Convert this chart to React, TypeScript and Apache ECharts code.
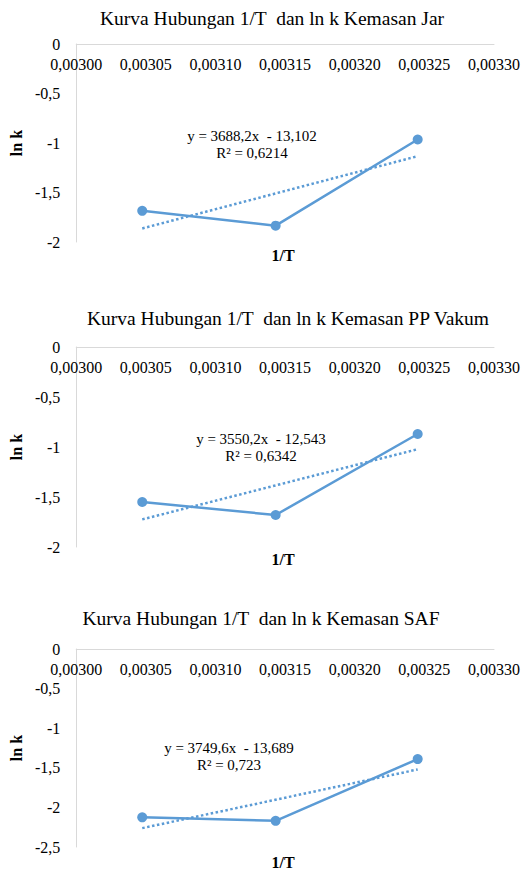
import React, { useEffect, useRef } from "react";
import * as echarts from "echarts";

// 1/T values (K^-1)
const invT = [0.0030474, 0.0031432, 0.0032452];

// ln k values per packaging
const lnkJar = [-1.685, -1.835, -0.965];
const lnkPP = [-1.55, -1.68, -0.87];
const lnkSAF = [-2.125, -2.17, -1.39];

// trendline endpoints (at first and last 1/T)
const trendJar = [-1.863, -1.133];
const trendPP = [-1.724, -1.022];
const trendSAF = [-2.262, -1.521];

const titles = [
  "Kurva Hubungan 1/T  dan ln k Kemasan Jar",
  "Kurva Hubungan 1/T  dan ln k Kemasan PP Vakum",
  "Kurva Hubungan 1/T  dan ln k Kemasan SAF",
];
const equations = ["y = 3688,2x  - 13,102", "y = 3550,2x  - 12,543", "y = 3749,6x  - 13,689"];
const rSquared = ["R² = 0,6214", "R² = 0,6342", "R² = 0,723"];
const yMins = [-2, -2, -2.5];

const FONT = "'Liberation Serif', 'Times New Roman', serif";
const BLUE = "#5B9BD5";
const AXIS = "#D9D9D9";

export default function App() {
  const ref = useRef<HTMLDivElement>(null);
  useEffect(() => {
    document.body.style.margin = "0";
    if (!ref.current) return;
    const chart = echarts.init(ref.current, undefined, { renderer: "svg" });

    const lnks = [lnkJar, lnkPP, lnkSAF];
    const trends = [trendJar, trendPP, trendSAF];
    const gridTops = [44, 347, 649];
    const gridHeights = [198, 200, 198];
    const titleX = [272, 288, 261];
    const titleY = [18, 318, 618];
    const eqX = [252, 261, 229];
    const eqY = [136, 439, 748];
    const xTitleY = [255, 559, 862];

    const grids = gridTops.map((t, i) => ({
      left: 71,
      top: t,
      width: 426,
      height: gridHeights[i],
    }));

    const xAxes = grids.map((_, i) => ({
      type: "value",
      gridIndex: i,
      position: "top",
      min: 300,
      max: 330,
      interval: 5,
      axisLine: { show: true, onZero: false, lineStyle: { color: AXIS, width: 1 } },
      axisTick: { show: false },
      splitLine: { show: false },
      axisLabel: {
        inside: true,
        margin: 12,
        color: "#000",
        fontFamily: FONT,
        fontSize: 16,
        formatter: (v: number) => (v / 100000).toFixed(5).replace(".", ","),
      },
    }));

    const yAxes = grids.map((_, i) => ({
      type: "value",
      gridIndex: i,
      min: yMins[i],
      max: 0,
      interval: 0.5,
      name: "ln k",
      nameLocation: "middle",
      nameRotate: 90,
      nameGap: 46,
      nameTextStyle: { fontFamily: FONT, fontSize: 16, fontWeight: "bold", color: "#000" },
      axisLine: { show: true, lineStyle: { color: AXIS, width: 1 } },
      axisTick: { show: false },
      splitLine: { show: false },
      axisLabel: {
        margin: 16,
        color: "#000",
        fontFamily: FONT,
        fontSize: 16,
        formatter: (v: number) => String(v).replace(".", ","),
      },
    }));

    const series: any[] = [];
    lnks.forEach((vals, i) => {
      series.push({
        type: "line",
        xAxisIndex: i,
        yAxisIndex: i,
        data: invT.map((x, j) => [x * 100000, vals[j]]),
        symbol: "circle",
        symbolSize: 10,
        itemStyle: { color: BLUE },
        lineStyle: { color: BLUE, width: 2.5 },
        z: 3,
      });
      series.push({
        type: "line",
        xAxisIndex: i,
        yAxisIndex: i,
        data: [
          [invT[0] * 100000, trends[i][0]],
          [invT[invT.length - 1] * 100000, trends[i][1]],
        ],
        symbol: "none",
        lineStyle: { color: BLUE, width: 2.5, type: [2.5, 2.5] },
        z: 2,
      });
    });

    const graphics: any[] = [];
    titles.forEach((t, i) => {
      graphics.push({
        type: "text",
        x: titleX[i],
        y: titleY[i],
        style: {
          text: t,
          fontFamily: FONT,
          fontSize: 19.5,
          fill: "#000",
          textAlign: "center",
          textVerticalAlign: "middle",
        },
      });
      graphics.push({
        type: "text",
        x: eqX[i],
        y: eqY[i],
        style: {
          text: equations[i],
          fontFamily: FONT,
          fontSize: 15,
          fill: "#000",
          textAlign: "center",
          textVerticalAlign: "middle",
        },
      });
      graphics.push({
        type: "text",
        x: eqX[i],
        y: eqY[i] + 17,
        style: {
          text: rSquared[i],
          fontFamily: FONT,
          fontSize: 15,
          fill: "#000",
          textAlign: "center",
          textVerticalAlign: "middle",
        },
      });
      graphics.push({
        type: "text",
        x: 283,
        y: xTitleY[i],
        style: {
          text: "1/T",
          fontFamily: FONT,
          fontSize: 16,
          fontWeight: "bold",
          fill: "#000",
          textAlign: "center",
          textVerticalAlign: "middle",
        },
      });
    });

    chart.setOption({
      animation: false,
      backgroundColor: "#fff",
      grid: grids,
      xAxis: xAxes,
      yAxis: yAxes,
      series,
      graphic: graphics,
    });
    return () => chart.dispose();
  }, []);
  return <div ref={ref} style={{ width: 523, height: 869 }} />;
}
